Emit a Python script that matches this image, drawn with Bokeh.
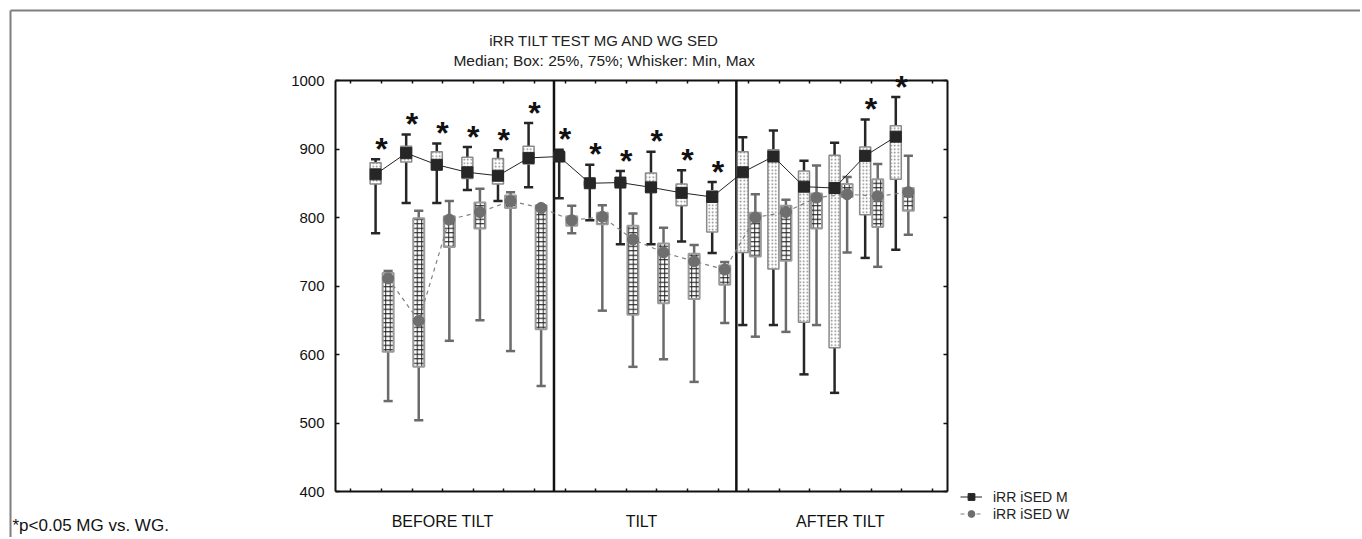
from bokeh.plotting import figure
from bokeh.models import Range1d, LinearAxis, FixedTicker, Label, Legend, LegendItem
from bokeh.core.properties import value
from bokeh.embed import file_html
from bokeh.resources import INLINE

# ---------------- data ----------------
groups = ["BEFORE TILT", "TILT", "AFTER TILT"]
group_slot_start = [0, 7, 13]
group_slot_end = [7, 13, 20]
n_slots = 20
pair_slot = list(range(1, 19))          # slot index of each measurement pair
y_ticks = [400, 500, 600, 700, 800, 900, 1000]
y_min, y_max = 400, 1000

# iRR iSED M  (min, 25%, median, 75%, max)
m_min = [777, 821, 821, 840, 824, 844, 828, 796, 761, 761, 765, 748, 643, 643, 571, 544, 741, 753]
m_q1 = [849, 881, 870, 857, 849, 878, 883, 846, 847, 837, 817, 779, 749, 725, 647, 610, 804, 856]
m_med = [863, 894, 877, 866, 861, 887, 889, 850, 851, 844, 836, 830, 866, 889, 845, 843, 890, 918]
m_q3 = [880, 904, 896, 888, 886, 904, 895, 853, 854, 865, 849, 839, 896, 899, 868, 891, 903, 934]
m_max = [885, 921, 908, 903, 898, 938, 899, 877, 868, 896, 869, 852, 917, 927, 883, 909, 943, 976]

# iRR iSED W
w_min = [532, 504, 620, 650, 605, 554, 777, 664, 582, 593, 560, 646, 626, 633, 643, 749, 728, 775]
w_q1 = [604, 582, 757, 784, 814, 637, 788, 790, 658, 675, 681, 702, 743, 737, 784, 830, 786, 810]
w_med = [711, 649, 797, 808, 824, 814, 796, 801, 768, 749, 736, 724, 800, 808, 829, 834, 831, 837]
w_q3 = [719, 799, 802, 822, 832, 818, 802, 807, 788, 762, 747, 730, 807, 817, 835, 849, 856, 843]
w_max = [722, 810, 824, 842, 837, 818, 817, 818, 806, 785, 760, 735, 834, 826, 876, 859, 878, 890]

# * p<0.05 MG vs. WG
significant = [True] * 12 + [False] * 4 + [True, True]

# phase boundaries (in slot units)
separators = [7.14, 13.1]

# ---------------- layout / style ----------------
FONT = "Liberation Sans"
M_OFF, W_OFF = -0.19, 0.22
BOX_W = 0.36
CAP_W = 0.30
M_DARK = "#262626"
W_GRAY = "#6b6b6b"

OX, OY = 0, 0            # page position of the canvas
CW, CH = 1360, 537       # canvas size
FRAME_L, FRAME_T = 335, 80
PX_X = 612 / n_slots
PX_Y = 411 / (y_max - y_min)
x_lo = -(FRAME_L - OX) / PX_X
x_hi = x_lo + CW / PX_X
y_hi = y_max + (FRAME_T - OY) / PX_Y
y_lo = y_hi - CH / PX_Y


def dx(px):
    return x_lo + (px - OX) / PX_X


def dy(py):
    return y_hi - (py - OY) / PX_Y


mx = [s + 0.5 + M_OFF for s in pair_slot]
wx = [s + 0.5 + W_OFF for s in pair_slot]

p = figure(width=CW, height=CH, output_backend="svg", toolbar_location=None,
           title=None, x_range=Range1d(x_lo, x_hi), y_range=Range1d(y_lo, y_hi),
           min_border=0, x_axis_location=None, y_axis_location=None)
p.xgrid.visible = False
p.ygrid.visible = False
p.outline_line_color = None
p.background_fill_color = "white"
p.border_fill_color = "white"

x_ticks = [s + 0.5 for s in range(n_slots)]


def style_axis(ax, labels):
    ax.axis_line_color = "#111111"
    ax.axis_line_width = 2
    ax.major_tick_line_color = "#111111"
    ax.major_tick_line_width = 1.5
    ax.major_tick_in = 4
    ax.major_tick_out = 0
    ax.minor_tick_line_color = None
    if labels:
        ax.major_label_text_font = FONT
        ax.major_label_text_font_size = "15px"
        ax.major_label_text_color = "#111111"
        ax.major_label_standoff = 11
    else:
        ax.major_label_text_color = None
        ax.major_label_standoff = 0


left = LinearAxis(ticker=FixedTicker(ticks=y_ticks), fixed_location=0, bounds=(y_min, y_max))
style_axis(left, True)
right = LinearAxis(ticker=FixedTicker(ticks=y_ticks), fixed_location=n_slots, bounds=(y_min, y_max))
style_axis(right, False)
bottom = LinearAxis(ticker=FixedTicker(ticks=x_ticks), fixed_location=y_min, bounds=(0, n_slots))
style_axis(bottom, False)
bottom.major_tick_in = 3
top = LinearAxis(ticker=FixedTicker(ticks=x_ticks), fixed_location=y_max, bounds=(0, n_slots))
style_axis(top, False)
top.major_tick_in = 3
p.add_layout(left, "left")
p.add_layout(right, "right")
p.add_layout(bottom, "below")
p.add_layout(top, "above")

# outer gray frame lines of the figure
p.segment(x0=[dx(10), dx(10)], y0=[dy(10), dy(10)], x1=[x_hi, dx(10)], y1=[dy(10), y_lo],
          line_color="#7f7f7f", line_width=2)

# separators between test phases
p.segment(x0=separators, y0=[y_min] * len(separators), x1=separators, y1=[y_max] * len(separators),
          line_color="#111111", line_width=2.5)

# whiskers
for xs, lo, hi, col in [(mx, m_min, m_max, M_DARK), (wx, w_min, w_max, W_GRAY)]:
    p.segment(x0=xs, y0=lo, x1=xs, y1=hi, line_color=col, line_width=2.5)
    p.segment(x0=[x - CAP_W / 2 for x in xs], y0=hi, x1=[x + CAP_W / 2 for x in xs], y1=hi,
              line_color=col, line_width=2.5)
    p.segment(x0=[x - CAP_W / 2 for x in xs], y0=lo, x1=[x + CAP_W / 2 for x in xs], y1=lo,
              line_color=col, line_width=2.5)

# boxes
p.vbar(x=mx, width=BOX_W, bottom=m_q1, top=m_q3, fill_color="white", line_color="#8a8a8a",
       line_width=1.5, hatch_pattern="dot", hatch_color="#808080", hatch_scale=3.5, hatch_weight=1)
p.vbar(x=wx, width=BOX_W, bottom=w_q1, top=w_q3, fill_color="white", line_color="#9a9a9a",
       line_width=2, hatch_pattern="cross", hatch_color="#222222", hatch_scale=4.5, hatch_weight=1)

# median lines and markers
m_line = p.line(mx, m_med, line_color="#222222", line_width=1)
w_line = p.line(wx, w_med, line_color="#808080", line_width=1.2, line_dash="4 4")
m_pts = p.scatter(mx, m_med, marker="square", size=11, fill_color="#262626", line_color="#262626")
w_pts = p.scatter(wx, w_med, marker="circle", size=11, fill_color="#6e6e6e", line_color="#6e6e6e")

# significance stars
star_x = [s + 0.5 for s, sig in zip(pair_slot, significant) if sig]
star_y = [mmax + 15 for mmax, sig in zip(m_max, significant) if sig]
p.text(x=star_x, y=star_y, text=["*"] * len(star_x), text_font=value(FONT), text_font_style="bold",
       text_font_size="32px", text_align="center", text_baseline="alphabetic", text_color="#111111")

# titles
p.add_layout(Label(x=dx(604), y=dy(40), text="iRR TILT TEST MG AND WG SED", text_font=FONT,
                   text_font_size="15px", text_align="center", text_baseline="middle",
                   text_color="#222222"))
p.add_layout(Label(x=dx(608), y=dy(60), text="Median;  Box: 25%, 75%;  Whisker: Min, Max", text_font=FONT,
                   text_font_size="15.5px", text_align="center", text_baseline="middle",
                   text_color="#222222"))

# group labels
for g, a, b in zip(groups, group_slot_start, group_slot_end):
    p.add_layout(Label(x=(a + b) / 2, y=dy(521), text=g, text_font=FONT, text_font_size="16px",
                       text_align="center", text_baseline="middle", text_color="#111111"))

# footnote
p.add_layout(Label(x=dx(12), y=dy(525), text="*p<0.05 MG vs. WG.", text_font=FONT,
                   text_font_size="17px", text_align="left", text_baseline="middle",
                   text_color="#111111"))

legend = Legend(items=[LegendItem(label="iRR iSED M", renderers=[m_line, m_pts]),
                       LegendItem(label="iRR iSED W", renderers=[w_line, w_pts])],
                location=(960 - OX, CH - (522 - OY)), orientation="vertical")
legend.label_text_font = FONT
legend.label_text_font_size = "14px"
legend.label_text_color = "#222222"
legend.glyph_width = 22
legend.glyph_height = 17
legend.label_height = 17
legend.label_standoff = 11
legend.spacing = 0
legend.padding = 0
legend.margin = 0
legend.border_line_color = None
legend.background_fill_alpha = 0
p.add_layout(legend)

open("out.html", "w").write(file_html(p, INLINE))
